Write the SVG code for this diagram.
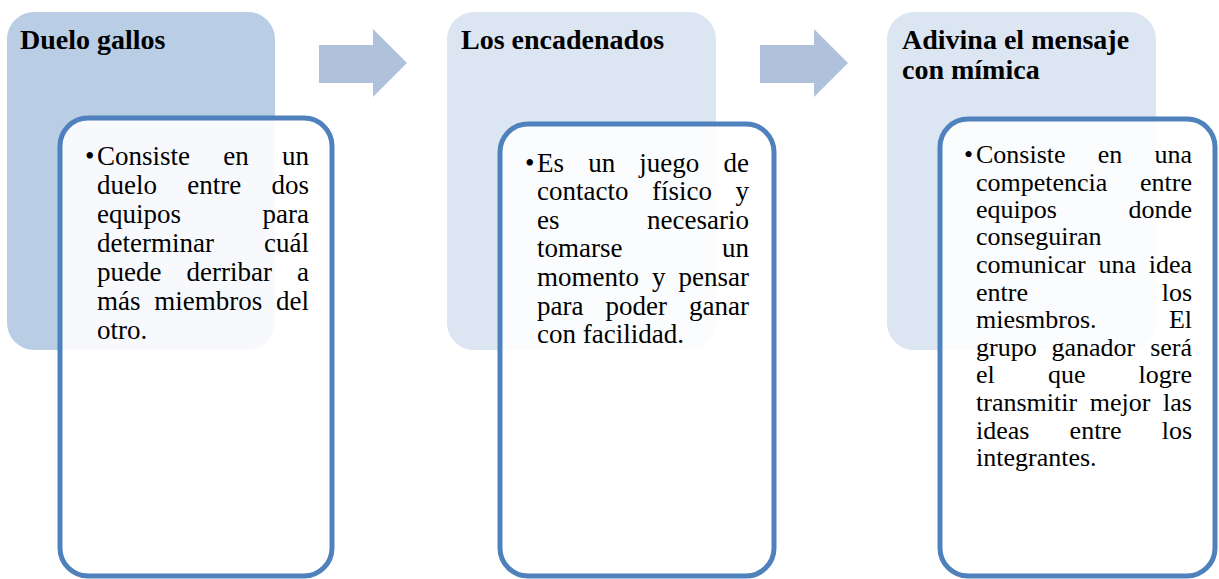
<svg xmlns="http://www.w3.org/2000/svg" width="1219" height="579" viewBox="0 0 1219 579">
<defs>
<style>
.bg1{fill:#b9cde5}
.bg2{fill:#dce6f2}
.inner{fill:#ffffff;fill-opacity:0.88;stroke:#4f81bd;stroke-width:5}
.arrow{fill:#b0c1dc}
</style>
</defs>
<rect width="1219" height="579" fill="#ffffff"/>
<g id="connectors">
<polygon class="arrow" points="319,45 373,45 373,29 407,63 373,97 373,83 319,83"/>
<polygon class="arrow" points="760,45 814,45 814,29 848,63 814,97 814,83 760,83"/>
</g>
<g id="node1">
<rect class="bg1" x="7" y="12" width="268" height="338" rx="27"/>
<text x="20" y="49" font-family="Liberation Serif" font-weight="bold" font-size="28">Duelo gallos</text>
<rect class="inner" x="60" y="118" width="272" height="458" rx="28"/>
<text x="85" y="165" font-family="Liberation Serif" font-size="27">•</text>
<text x="97" y="165" font-family="Liberation Serif" font-size="27">Consiste</text>
<text x="223.3" y="165" font-family="Liberation Serif" font-size="27">en</text>
<text x="309" y="165" font-family="Liberation Serif" font-size="27" text-anchor="end">un</text>
<text x="97" y="194" font-family="Liberation Serif" font-size="27">duelo</text>
<text x="187.3" y="194" font-family="Liberation Serif" font-size="27">entre</text>
<text x="309" y="194" font-family="Liberation Serif" font-size="27" text-anchor="end">dos</text>
<text x="97" y="223" font-family="Liberation Serif" font-size="27">equipos</text>
<text x="309" y="223" font-family="Liberation Serif" font-size="27" text-anchor="end">para</text>
<text x="97" y="252" font-family="Liberation Serif" font-size="27">determinar</text>
<text x="309" y="252" font-family="Liberation Serif" font-size="27" text-anchor="end">cuál</text>
<text x="97" y="281" font-family="Liberation Serif" font-size="27">puede</text>
<text x="186.5" y="281" font-family="Liberation Serif" font-size="27">derribar</text>
<text x="309" y="281" font-family="Liberation Serif" font-size="27" text-anchor="end">a</text>
<text x="97" y="310" font-family="Liberation Serif" font-size="27">más</text>
<text x="154.3" y="310" font-family="Liberation Serif" font-size="27">miembros</text>
<text x="309" y="310" font-family="Liberation Serif" font-size="27" text-anchor="end">del</text>
<text x="97" y="339" font-family="Liberation Serif" font-size="27">otro.</text>
</g>
<g id="node2">
<rect class="bg2" x="447" y="12" width="269" height="338" rx="27"/>
<text x="461" y="49" font-family="Liberation Serif" font-weight="bold" font-size="28">Los encadenados</text>
<rect class="inner" x="500" y="124" width="274" height="452" rx="28"/>
<text x="525" y="172" font-family="Liberation Serif" font-size="27">•</text>
<text x="537" y="172" font-family="Liberation Serif" font-size="27">Es</text>
<text x="588.2" y="172" font-family="Liberation Serif" font-size="27">un</text>
<text x="639.3" y="172" font-family="Liberation Serif" font-size="27">juego</text>
<text x="749" y="172" font-family="Liberation Serif" font-size="27" text-anchor="end">de</text>
<text x="537" y="200" font-family="Liberation Serif" font-size="27">contacto</text>
<text x="652" y="200" font-family="Liberation Serif" font-size="27">físico</text>
<text x="749" y="200" font-family="Liberation Serif" font-size="27" text-anchor="end">y</text>
<text x="537" y="229" font-family="Liberation Serif" font-size="27">es</text>
<text x="749" y="229" font-family="Liberation Serif" font-size="27" text-anchor="end">necesario</text>
<text x="537" y="257" font-family="Liberation Serif" font-size="27">tomarse</text>
<text x="749" y="257" font-family="Liberation Serif" font-size="27" text-anchor="end">un</text>
<text x="537" y="286" font-family="Liberation Serif" font-size="27">momento</text>
<text x="652" y="286" font-family="Liberation Serif" font-size="27">y</text>
<text x="749" y="286" font-family="Liberation Serif" font-size="27" text-anchor="end">pensar</text>
<text x="537" y="315" font-family="Liberation Serif" font-size="27">para</text>
<text x="605.5" y="315" font-family="Liberation Serif" font-size="27">poder</text>
<text x="749" y="315" font-family="Liberation Serif" font-size="27" text-anchor="end">ganar</text>
<text x="537" y="343" font-family="Liberation Serif" font-size="27">con facilidad.</text>
</g>
<g id="node3">
<rect class="bg2" x="887" y="12" width="269" height="338" rx="27"/>
<text x="902" y="49" font-family="Liberation Serif" font-weight="bold" font-size="28">Adivina el mensaje</text>
<text x="902" y="79" font-family="Liberation Serif" font-weight="bold" font-size="28">con mímica</text>
<rect class="inner" x="940" y="119" width="275" height="457" rx="28"/>
<text x="964" y="163" font-family="Liberation Serif" font-size="26">•</text>
<text x="976" y="163" font-family="Liberation Serif" font-size="26">Consiste</text>
<text x="1097.8" y="163" font-family="Liberation Serif" font-size="26">en</text>
<text x="1192" y="163" font-family="Liberation Serif" font-size="26" text-anchor="end">una</text>
<text x="976" y="191" font-family="Liberation Serif" font-size="26">competencia</text>
<text x="1192" y="191" font-family="Liberation Serif" font-size="26" text-anchor="end">entre</text>
<text x="976" y="218" font-family="Liberation Serif" font-size="26">equipos</text>
<text x="1192" y="218" font-family="Liberation Serif" font-size="26" text-anchor="end">donde</text>
<text x="976" y="245" font-family="Liberation Serif" font-size="26">conseguiran</text>
<text x="976" y="273" font-family="Liberation Serif" font-size="26">comunicar</text>
<text x="1098.5" y="273" font-family="Liberation Serif" font-size="26">una</text>
<text x="1192" y="273" font-family="Liberation Serif" font-size="26" text-anchor="end">idea</text>
<text x="976" y="301" font-family="Liberation Serif" font-size="26">entre</text>
<text x="1192" y="301" font-family="Liberation Serif" font-size="26" text-anchor="end">los</text>
<text x="976" y="328" font-family="Liberation Serif" font-size="26">miesmbros.</text>
<text x="1192" y="328" font-family="Liberation Serif" font-size="26" text-anchor="end">El</text>
<text x="976" y="356" font-family="Liberation Serif" font-size="26">grupo</text>
<text x="1051.5" y="356" font-family="Liberation Serif" font-size="26">ganador</text>
<text x="1192" y="356" font-family="Liberation Serif" font-size="26" text-anchor="end">será</text>
<text x="976" y="383" font-family="Liberation Serif" font-size="26">el</text>
<text x="1048" y="383" font-family="Liberation Serif" font-size="26">que</text>
<text x="1192" y="383" font-family="Liberation Serif" font-size="26" text-anchor="end">logre</text>
<text x="976" y="411" font-family="Liberation Serif" font-size="26">transmitir</text>
<text x="1089.8" y="411" font-family="Liberation Serif" font-size="26">mejor</text>
<text x="1192" y="411" font-family="Liberation Serif" font-size="26" text-anchor="end">las</text>
<text x="976" y="439" font-family="Liberation Serif" font-size="26">ideas</text>
<text x="1069.6" y="439" font-family="Liberation Serif" font-size="26">entre</text>
<text x="1192" y="439" font-family="Liberation Serif" font-size="26" text-anchor="end">los</text>
<text x="976" y="466" font-family="Liberation Serif" font-size="26">integrantes.</text>
</g>
</svg>
